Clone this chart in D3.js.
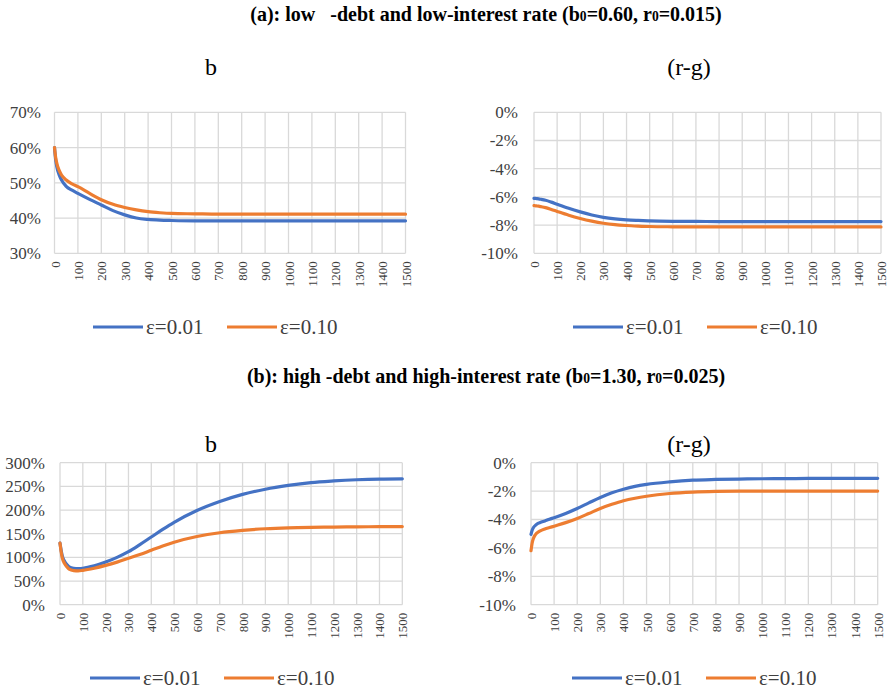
<!DOCTYPE html>
<html>
<head>
<meta charset="utf-8">
<script src="https://cdn.jsdelivr.net/npm/d3@7"></script>
<style>
  html, body { margin: 0; padding: 0; background: #fff; }
  svg { display: block; }
</style>
</head>
<body>
<svg id="chart" width="890" height="692"></svg>
<script>
// ---------- DATA ----------
const seriesNames = ["ε=0.01", "ε=0.10"];
const xTicks = [0,100,200,300,400,500,600,700,800,900,1000,1100,1200,1300,1400,1500];

// sample times for the curves
const tA = [0,5,10,20,30,50,75,100,150,200,250,300,350,400,450,500,600,700,800,900,1000,1100,1200,1300,1400,1500];
// (a) b
const aB_e01 = [0.600,0.565,0.545,0.522,0.508,0.490,0.479,0.470,0.453,0.437,0.421,0.409,0.400,0.396,0.394,0.393,0.392,0.392,0.392,0.392,0.392,0.392,0.392,0.392,0.392,0.392];
const aB_e10 = [0.600,0.572,0.555,0.535,0.522,0.508,0.497,0.489,0.470,0.452,0.439,0.430,0.423,0.418,0.415,0.413,0.412,0.411,0.411,0.411,0.411,0.411,0.411,0.411,0.411,0.411];
// (a) r-g
const aR_e01 = [-0.0610,-0.0611,-0.0612,-0.0614,-0.0617,-0.0624,-0.0637,-0.0652,-0.0681,-0.0706,-0.0728,-0.0745,-0.0756,-0.0763,-0.0767,-0.0770,-0.0773,-0.0774,-0.0775,-0.0775,-0.0775,-0.0775,-0.0775,-0.0775,-0.0775,-0.0775];
const aR_e10 = [-0.0662,-0.0663,-0.0664,-0.0666,-0.0669,-0.0676,-0.0689,-0.0703,-0.0730,-0.0753,-0.0772,-0.0787,-0.0797,-0.0803,-0.0807,-0.0810,-0.0812,-0.0813,-0.0813,-0.0813,-0.0813,-0.0813,-0.0813,-0.0813,-0.0813,-0.0813];

const tB = [0,5,10,20,30,40,60,80,100,150,200,250,300,350,400,450,500,600,700,800,900,1000,1100,1200,1300,1400,1500];
// (b) b
const bB_e01 = [1.30,1.15,1.03,0.92,0.85,0.80,0.77,0.765,0.77,0.82,0.90,1.00,1.12,1.27,1.43,1.59,1.74,1.99,2.18,2.33,2.44,2.52,2.58,2.615,2.64,2.655,2.66];
const bB_e10 = [1.30,1.12,0.99,0.87,0.80,0.75,0.72,0.715,0.725,0.77,0.83,0.90,0.98,1.06,1.15,1.24,1.32,1.44,1.52,1.57,1.605,1.625,1.635,1.64,1.645,1.648,1.65];
// (b) r-g
const bR_e01 = [-0.0505,-0.0475,-0.0458,-0.0440,-0.0428,-0.0421,-0.0410,-0.0398,-0.0387,-0.0357,-0.0322,-0.0283,-0.0245,-0.0212,-0.0187,-0.0167,-0.0153,-0.0135,-0.0123,-0.0118,-0.0115,-0.0113,-0.0112,-0.0111,-0.0111,-0.0110,-0.0110];
const bR_e10 = [-0.0620,-0.0565,-0.0535,-0.0505,-0.0490,-0.0480,-0.0467,-0.0457,-0.0447,-0.0422,-0.0393,-0.0358,-0.0322,-0.0293,-0.0268,-0.0250,-0.0236,-0.0217,-0.0207,-0.0202,-0.0200,-0.0200,-0.0200,-0.0200,-0.0200,-0.0200,-0.0200];

const yTicksB_a = [0.3,0.4,0.5,0.6,0.7];
const yTicksRG = [-0.10,-0.08,-0.06,-0.04,-0.02,0];
const yTicksB_b = [0,0.5,1.0,1.5,2.0,2.5,3.0];

// ---------- STYLE / LAYOUT ----------
const colors = ["#4472C4", "#ED7D31"];
const serif = "'Liberation Serif', 'Times New Roman', serif";
const svg = d3.select("#chart");

const pctFmt = v => {
  const p = Math.round(v * 100);
  return (p < 0 ? "-" + Math.abs(p) : String(p)) + "%";
};

function panel(cfg) {
  const x = d3.scaleLinear().domain([0, 1500]).range([cfg.left, cfg.right]);
  const y = d3.scaleLinear().domain(cfg.yDomain).range([cfg.bottom, cfg.top]);
  const g = svg.append("g");

  // title
  g.append("text").attr("x", cfg.titleX).attr("y", cfg.titleY)
    .attr("text-anchor", "middle").style("font-family", serif)
    .attr("font-size", 24).attr("fill", "#000").text(cfg.title);

  // gridlines
  g.append("g").selectAll("line.h").data(cfg.yTicks).join("line")
    .attr("x1", cfg.left).attr("x2", cfg.right)
    .attr("y1", d => y(d)).attr("y2", d => y(d))
    .attr("stroke", "#d9d9d9").attr("stroke-width", 1.3);
  g.append("g").selectAll("line.v").data(xTicks).join("line")
    .attr("x1", d => x(d)).attr("x2", d => x(d))
    .attr("y1", cfg.top).attr("y2", cfg.bottom)
    .attr("stroke", "#d9d9d9").attr("stroke-width", 1.3);

  // y axis labels
  const yAxis = d3.axisLeft(y).tickValues(cfg.yTicks).tickFormat(pctFmt).tickSize(0).tickPadding(0);
  const ya = g.append("g").attr("transform", `translate(${cfg.yLabelX},0)`).call(yAxis);
  ya.attr("font-family", null).attr("font-size", null);
  ya.select(".domain").remove();
  ya.selectAll("text").style("font-family", serif).attr("font-size", 17).attr("fill", "#404040");

  // x axis labels (rotated)
  const xAxis = d3.axisBottom(x).tickValues(xTicks).tickFormat(d3.format("d")).tickSize(0).tickPadding(0);
  const xa = g.append("g").attr("transform", `translate(0,${cfg.bottom})`).call(xAxis);
  xa.attr("font-family", null).attr("font-size", null);
  xa.select(".domain").remove();
  xa.selectAll("text")
    .style("font-family", serif).attr("font-size", 13).attr("fill", "#404040")
    .attr("text-anchor", "end").attr("dy", null).attr("y", null)
    .attr("dominant-baseline", "central")
    .attr("transform", "translate(0,8) rotate(-90)");

  // lines
  const line = d3.line().x(d => x(d[0])).y(d => y(d[1])).curve(d3.curveMonotoneX);
  cfg.series.forEach((s, i) => {
    g.append("path").datum(cfg.t.map((t, k) => [t, s[k]]))
      .attr("d", line).attr("fill", "none")
      .attr("stroke", colors[i]).attr("stroke-width", 3.2)
      .attr("stroke-linejoin", "round").attr("stroke-linecap", "round");
  });

  // legend
  const lg = g.append("g").attr("transform", `translate(${cfg.legendX},${cfg.legendY})`);
  const offs = [0, 134];
  seriesNames.forEach((n, i) => {
    lg.append("line").attr("x1", offs[i]).attr("x2", offs[i] + 50)
      .attr("y1", 0).attr("y2", 0).attr("stroke", colors[i]).attr("stroke-width", 3.2);
    lg.append("text").attr("x", offs[i] + 53).attr("y", 0)
      .attr("dominant-baseline", "central").style("font-family", serif)
      .attr("font-size", 21).attr("fill", "#404040").text(n);
  });
}

// ---------- SECTION TITLES ----------
function sectionTitle(y, parts, size) {
  const t = svg.append("text").attr("x", 486).attr("y", y).attr("text-anchor", "middle")
    .style("font-family", serif).style("white-space", "pre")
    .attr("font-weight", "bold").attr("font-size", size).attr("fill", "#000");
  parts.forEach(p => {
    const ts = t.append("tspan").text(p.s);
    if (p.sub) ts.attr("font-size", size * 0.68);
  });
  return t;
}
const tA_title = sectionTitle(21, [{s:"(a): low\u00a0\u00a0\u00a0-debt and low-interest rate (b"},{s:"0",sub:true},{s:"=0.60, r"},{s:"0",sub:true},{s:"=0.015)"}], 16);
// fit title (a) to the reference width, and use the same size for (b)
const wA = tA_title.node().getComputedTextLength();
const fitSize = Math.max(14, Math.min(20, 16 * 513 / wA));
tA_title.attr("font-size", fitSize).selectAll("tspan").filter(function(){ return this.getAttribute("font-size"); }).attr("font-size", fitSize * 0.68);
sectionTitle(383, [{s:"(b): high -debt and high-interest rate (b"},{s:"0",sub:true},{s:"=1.30, r"},{s:"0",sub:true},{s:"=0.025)"}], fitSize);

// ---------- PANELS ----------
panel({ title: "b", titleX: 211, titleY: 75, left: 54.5, right: 405.5, top: 112.3, bottom: 253.3,
  yDomain: [0.3, 0.7], yTicks: yTicksB_a, yLabelX: 41, t: tA, series: [aB_e01, aB_e10],
  legendX: 93, legendY: 327 });
panel({ title: "(r-g)", titleX: 689, titleY: 75, left: 534, right: 881, top: 112.3, bottom: 253.3,
  yDomain: [-0.10, 0], yTicks: yTicksRG, yLabelX: 518, t: tA, series: [aR_e01, aR_e10],
  legendX: 573, legendY: 327 });
panel({ title: "b", titleX: 211, titleY: 452, left: 60, right: 402.3, top: 462.7, bottom: 604.7,
  yDomain: [0, 3], yTicks: yTicksB_b, yLabelX: 45, t: tB, series: [bB_e01, bB_e10],
  legendX: 90, legendY: 678 });
panel({ title: "(r-g)", titleX: 689, titleY: 452, left: 531, right: 877.7, top: 462.7, bottom: 604.7,
  yDomain: [-0.10, 0], yTicks: yTicksRG, yLabelX: 516, t: tB, series: [bR_e01, bR_e10],
  legendX: 572, legendY: 678 });
</script>
</body>
</html>
